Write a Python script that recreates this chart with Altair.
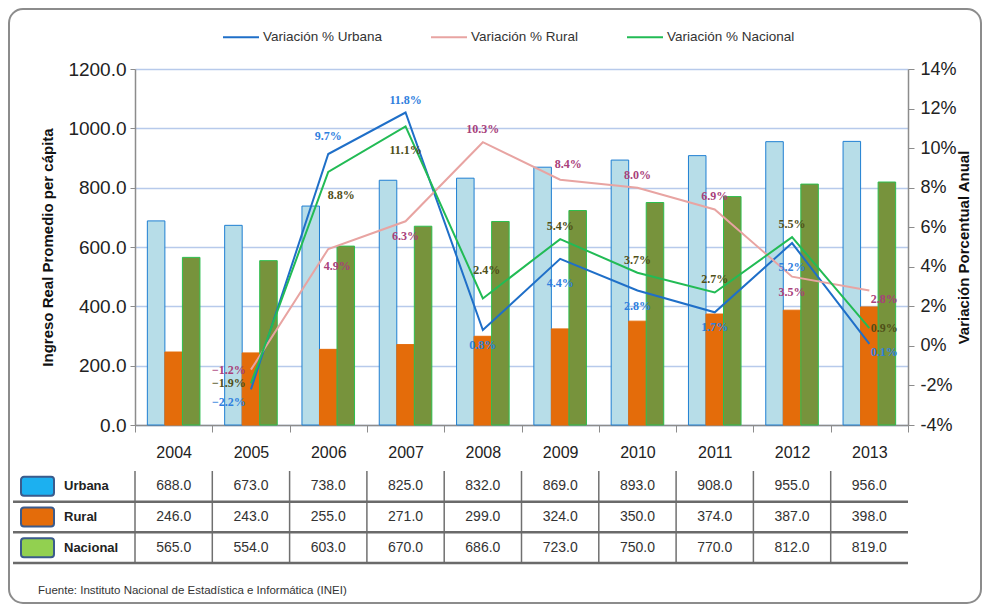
import altair as alt
import pandas as pd

# ---------------- data ----------------
years = ["2004", "2005", "2006", "2007", "2008", "2009", "2010", "2011", "2012", "2013"]
urbana = [688.0, 673.0, 738.0, 825.0, 832.0, 869.0, 893.0, 908.0, 955.0, 956.0]
rural = [246.0, 243.0, 255.0, 271.0, 299.0, 324.0, 350.0, 374.0, 387.0, 398.0]
nacional = [565.0, 554.0, 603.0, 670.0, 686.0, 723.0, 750.0, 770.0, 812.0, 819.0]

var_years = ["2005", "2006", "2007", "2008", "2009", "2010", "2011", "2012", "2013"]
var_urbana = [-2.2, 9.7, 11.8, 0.8, 4.4, 2.8, 1.7, 5.2, 0.1]
var_rural = [-1.2, 4.9, 6.3, 10.3, 8.4, 8.0, 6.9, 3.5, 2.8]
var_nacional = [-1.9, 8.8, 11.1, 2.4, 5.4, 3.7, 2.7, 5.5, 0.9]

# label placement category per point
pos_urbana = ["leftbelow", "abovefar2", "above", "below", "belowfar", "below", "below", "belowfar", "rightbelow"]
pos_rural = ["left", "belowright", "below", "above", "aboveright", "above", "above", "below", "rightbelow"]
pos_nacional = ["left", "belowfarright", "belowfar", "abovefar", "above", "above", "above", "above", "right"]

series_names = ["Urbana", "Rural", "Nacional"]
var_names = ["Variación % Urbana", "Variación % Rural", "Variación % Nacional"]
source_text = "Fuente: Instituto Nacional de Estadística e Informática  (INEI)"

# ---------------- styles ----------------
FONT = "Liberation Sans"
bar_fill = ["#B7DDE8", "#E46C0A", "#77933C"]
bar_stroke = ["#1F7FD2", "#E46C0A", "#2DBE4E"]
line_colors = ["#1F6FC8", "#E8A4A2", "#22BB55"]
label_colors = ["#2F80DE", "#A8407A", "#4F4F18"]
swatch_fill = ["#1CB0F0", "#E46C0A", "#92D050"]
presets = {
    "above": (0, -13),
    "abovefar2": (0, -18),
    "aboveright": (8, -16),
    "below": (0, 15),
    "belowright": (9, 17),
    "belowfar": (0, 24),
    "belowfarright": (13, 23),
    "abovefar": (4, -28),
    "left": (-22, 0),
    "leftbelow": (-22, 13),
    "right": (15, 0),
    "rightbelow": (15, 8),
}

W, H = 773, 356
TH = 92
NO_FRAME = alt.ViewBackground(stroke="transparent", strokeWidth=0)

bars_df = pd.DataFrame({
    "year": years * 3,
    "series": [s for s in series_names for _ in years],
    "value": urbana + rural + nacional,
})
var_df = pd.DataFrame({
    "year": var_years * 3,
    "series": [s for s in var_names for _ in var_years],
    "value": var_urbana + var_rural + var_nacional,
    "pos": pos_urbana + pos_rural + pos_nacional,
})
one = pd.DataFrame({"k": [0]})

x_scale = alt.Scale(domain=years, paddingInner=0, paddingOuter=0)
X = alt.X("year:N", sort=years, scale=x_scale,
          axis=alt.Axis(title=None, labelAngle=0, tickBand="extent", tickSize=7,
                        labelFontSize=16, labelPadding=12, labelFont=FONT,
                        labelColor="#222", domainColor="#8c8c8c", tickColor="#8c8c8c",
                        domainWidth=1.5))

Y_left = alt.Y("value:Q", scale=alt.Scale(domain=[0, 1200], nice=False),
               axis=alt.Axis(values=[0, 200, 400, 600, 800, 1000, 1200], format=".1f",
                             grid=True, gridColor="#B7CAEB", gridWidth=1.5,
                             tickSize=5, tickColor="#8c8c8c", domainColor="#8c8c8c",
                             domainWidth=1.5, labelFontSize=19, labelFont=FONT,
                             labelColor="#222", labelPadding=4,
                             title="Ingreso Real Promedio per cápita", titleFontSize=15,
                             titleFont=FONT, titleFontWeight="bold", titleColor="#111",
                             titlePadding=12))

Y_right = alt.Y("value:Q", scale=alt.Scale(domain=[-4, 14], nice=False),
                axis=alt.Axis(orient="right", values=list(range(-4, 15, 2)),
                              labelExpr="datum.value + '%'", grid=False,
                              tickSize=6, tickColor="#8c8c8c", domainColor="#8c8c8c",
                              domainWidth=1.5, labelFontSize=18, labelFont=FONT,
                              labelColor="#222", labelPadding=6,
                              title="Variación Porcentual Anual", titleAngle=270,
                              titleFontSize=15, titleFont=FONT, titleFontWeight="bold",
                              titleColor="#111", titlePadding=15))

border = alt.Chart(one).mark_rect(fill="transparent", stroke="#8c8c8c", strokeWidth=2,
                                  cornerRadius=14).encode(
    x=alt.value(-126), x2=alt.value(846), y=alt.value(-60), y2=alt.value(534))

bars = alt.Chart(bars_df).mark_bar(strokeWidth=1).encode(
    x=X,
    xOffset=alt.XOffset("series:N", sort=series_names,
                        scale=alt.Scale(domain=series_names, paddingInner=0, paddingOuter=0.705)),
    y=Y_left,
    fill=alt.Fill("series:N", scale=alt.Scale(domain=series_names, range=bar_fill), legend=None),
    stroke=alt.Stroke("series:N", scale=alt.Scale(domain=series_names, range=bar_stroke), legend=None),
)

lines = alt.Chart(var_df).mark_line(strokeWidth=2).encode(
    x=X,
    y=Y_right,
    color=alt.Color("series:N", sort=var_names,
                    scale=alt.Scale(domain=var_names, range=line_colors),
                    legend=alt.Legend(title=None, orient="none", legendX=87, legendY=-51,
                                      direction="horizontal", symbolType="stroke",
                                      symbolSize=1296, symbolStrokeWidth=2,
                                      labelFontSize=13.5, labelFont=FONT, labelColor="#333",
                                      labelOffset=3, columnPadding=44)),
)

texts = []
for key, (dx, dy) in presets.items():
    texts.append(
        alt.Chart(var_df).transform_filter(alt.datum.pos == key)
        .transform_calculate(label="format(datum.value, '.1f') + '%'")
        .mark_text(dx=dx, dy=dy, font="Liberation Serif", fontSize=12, fontWeight="bold")
        .encode(
            x=X, y=Y_right, text="label:N",
            color=alt.Color("series:N", scale=alt.Scale(domain=var_names, range=label_colors),
                            legend=None),
        )
    )

inner = alt.layer(lines, *texts).resolve_scale(color="independent")
top = alt.layer(border, bars, inner).resolve_scale(y="independent").properties(
    width=W, height=H, view=NO_FRAME)

# ---------------- table ----------------
tab_df = pd.DataFrame({
    "year": years * 3,
    "row": [s for s in series_names for _ in years],
    "value": urbana + rural + nacional,
})
rows_df = pd.DataFrame({"row": series_names})
years_df = pd.DataFrame({"year": years})

T_X = alt.X("year:N", sort=years, scale=x_scale, axis=None)
T_Y = alt.Y("row:N", sort=series_names,
            scale=alt.Scale(domain=series_names, paddingInner=0, paddingOuter=0), axis=None)

cells = alt.Chart(tab_df).mark_text(font=FONT, fontSize=14, color="#333").encode(
    x=T_X, y=T_Y, text=alt.Text("value:Q", format=".1f"))
vlines = alt.Chart(years_df).mark_rule(color="#707070", strokeWidth=1.5).encode(
    x=alt.X("year:N", sort=years, scale=x_scale, axis=None, bandPosition=0),
    y=alt.value(0), y2=alt.value(TH))
hlines = alt.Chart(rows_df).mark_rule(color="#6a6a6a", strokeWidth=2.5).encode(
    y=alt.Y("row:N", sort=series_names,
            scale=alt.Scale(domain=series_names, paddingInner=0, paddingOuter=0),
            axis=None, bandPosition=1),
    x=alt.value(-122), x2=alt.value(W))
row_labels = alt.Chart(rows_df).mark_text(align="left", font=FONT, fontSize=13,
                                          fontWeight="bold", color="#222").encode(
    y=T_Y, x=alt.value(-71), text="row:N")
swatches = alt.Chart(rows_df).mark_bar(size=19, cornerRadius=3, stroke="#3b5b8c",
                                       strokeWidth=2, orient="horizontal").encode(
    y=T_Y, x=alt.value(-114), x2=alt.value(-81),
    fill=alt.Fill("row:N", scale=alt.Scale(domain=series_names, range=swatch_fill), legend=None))
fuente = alt.Chart(one).mark_text(align="left", font=FONT, fontSize=11.5, color="#333").encode(
    x=alt.value(-97), y=alt.value(120), text=alt.value(source_text))

table = alt.layer(vlines, hlines, swatches, row_labels, cells, fuente).properties(
    width=W, height=TH, view=NO_FRAME)

chart = alt.vconcat(top, table, spacing=46, bounds="flush", padding=0).resolve_scale(
    color="independent", fill="independent", stroke="independent",
    x="independent", y="independent"
).configure_view(strokeWidth=0, stroke="transparent").configure(background="white")

chart.save("out.html", embed_options={"renderer": "svg", "actions": False})
